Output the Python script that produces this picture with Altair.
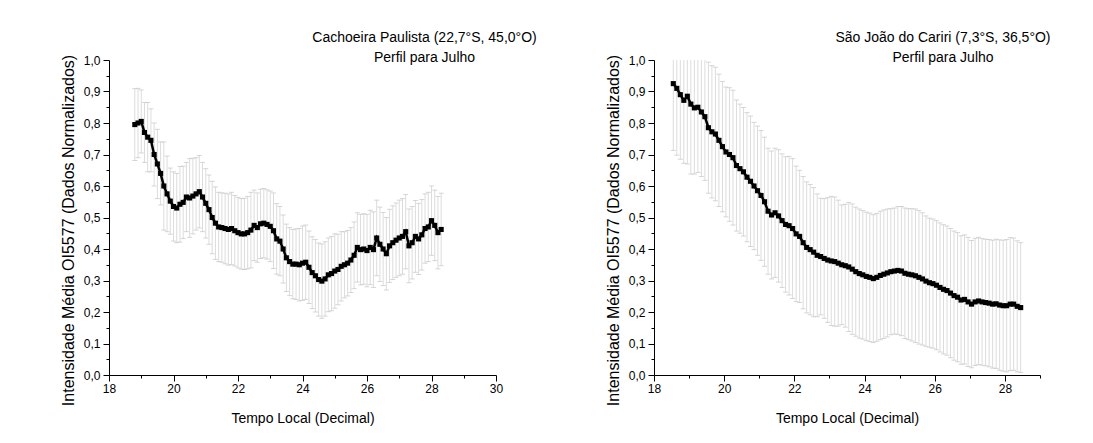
import altair as alt
import pandas as pd

# ---------------- data ----------------
# Left panel: Cachoeira Paulista, times start at 18.8 h, step 0.1 h
cp_start = 18.8
cp_mean = [0.795, 0.800, 0.805, 0.770, 0.755, 0.745, 0.700, 0.670, 0.640, 0.600,
           0.575, 0.552, 0.535, 0.530, 0.542, 0.548, 0.565, 0.562, 0.568, 0.575,
           0.582, 0.565, 0.545, 0.525, 0.500, 0.482, 0.470, 0.468, 0.465, 0.462,
           0.465, 0.458, 0.452, 0.448, 0.448, 0.452, 0.460, 0.475, 0.468, 0.480,
           0.482, 0.478, 0.472, 0.458, 0.432, 0.425, 0.400, 0.372, 0.360, 0.352,
           0.352, 0.350, 0.355, 0.358, 0.342, 0.325, 0.315, 0.303, 0.298, 0.305,
           0.318, 0.322, 0.330, 0.335, 0.345, 0.350, 0.355, 0.365, 0.380, 0.405,
           0.398, 0.400, 0.395, 0.405, 0.398, 0.435, 0.415, 0.400, 0.385, 0.410,
           0.420, 0.428, 0.435, 0.440, 0.455, 0.410, 0.420, 0.440, 0.432, 0.445,
           0.465, 0.470, 0.490, 0.475, 0.452, 0.462]
cp_err = [0.114, 0.110, 0.100, 0.095, 0.110, 0.100, 0.100, 0.110, 0.100, 0.140,
          0.120, 0.105, 0.110, 0.110, 0.120, 0.115, 0.110, 0.125, 0.120, 0.115,
          0.115, 0.110, 0.110, 0.110, 0.115, 0.115, 0.110, 0.110, 0.112, 0.113,
          0.115, 0.112, 0.112, 0.112, 0.113, 0.115, 0.120, 0.112, 0.110, 0.110,
          0.110, 0.110, 0.112, 0.120, 0.112, 0.110, 0.108, 0.107, 0.108, 0.110,
          0.112, 0.115, 0.118, 0.118, 0.115, 0.114, 0.115, 0.116, 0.118, 0.118,
          0.117, 0.118, 0.118, 0.112, 0.110, 0.105, 0.104, 0.103, 0.106, 0.110,
          0.112, 0.112, 0.115, 0.118, 0.120, 0.120, 0.118, 0.116, 0.115, 0.116,
          0.117, 0.118, 0.120, 0.120, 0.118, 0.117, 0.115, 0.114, 0.113, 0.112,
          0.110, 0.110, 0.110, 0.112, 0.115, 0.115]

# Right panel: Sao Joao do Cariri, times start at 18.55 h, step 0.1 h
sj_start = 18.55
sj_mean = [0.925, 0.910, 0.890, 0.872, 0.885, 0.860, 0.848, 0.850, 0.835, 0.820,
           0.785, 0.772, 0.765, 0.745, 0.725, 0.708, 0.700, 0.690, 0.665, 0.655,
           0.645, 0.628, 0.615, 0.600, 0.585, 0.570, 0.550, 0.520, 0.508, 0.515,
           0.505, 0.490, 0.478, 0.474, 0.465, 0.448, 0.440, 0.420, 0.405, 0.398,
           0.390, 0.380, 0.376, 0.370, 0.365, 0.362, 0.360, 0.355, 0.350, 0.347,
           0.343, 0.336, 0.328, 0.322, 0.318, 0.313, 0.310, 0.306, 0.310, 0.316,
           0.320, 0.324, 0.328, 0.330, 0.332, 0.330, 0.323, 0.320, 0.318, 0.315,
           0.310, 0.305, 0.298, 0.293, 0.290, 0.285, 0.278, 0.272, 0.268, 0.260,
           0.252, 0.247, 0.238, 0.240, 0.232, 0.225, 0.232, 0.235, 0.232, 0.230,
           0.228, 0.225, 0.226, 0.222, 0.220, 0.220, 0.225, 0.225, 0.218, 0.214]
sj_err = [0.212, 0.212, 0.205, 0.200, 0.215, 0.222, 0.210, 0.207, 0.205, 0.202,
          0.208, 0.210, 0.212, 0.210, 0.207, 0.206, 0.212, 0.214, 0.208, 0.205,
          0.204, 0.205, 0.207, 0.202, 0.205, 0.206, 0.205, 0.200, 0.203, 0.205,
          0.210, 0.212, 0.215, 0.220, 0.222, 0.215, 0.210, 0.210, 0.208, 0.207,
          0.205, 0.195, 0.185, 0.190, 0.198, 0.205, 0.205, 0.200, 0.190, 0.195,
          0.205, 0.207, 0.205, 0.205, 0.204, 0.204, 0.204, 0.203, 0.203, 0.204,
          0.204, 0.203, 0.200, 0.200, 0.203, 0.205, 0.207, 0.208, 0.210, 0.212,
          0.212, 0.210, 0.207, 0.205, 0.205, 0.205, 0.205, 0.205, 0.205, 0.205,
          0.205, 0.205, 0.204, 0.205, 0.205, 0.202, 0.202, 0.202, 0.201, 0.201,
          0.202, 0.203, 0.205, 0.207, 0.208, 0.210, 0.211, 0.210, 0.208, 0.206]

y_ticks = [0.0, 0.05, 0.1, 0.15, 0.2, 0.25, 0.3, 0.35, 0.4, 0.45, 0.5,
           0.55, 0.6, 0.65, 0.7, 0.75, 0.8, 0.85, 0.9, 0.95, 1.0]
x_ticks_left = [18, 19, 20, 21, 22, 23, 24, 25, 26, 27, 28, 29, 30]
x_ticks_right = [18, 19, 20, 21, 22, 23, 24, 25, 26, 27, 28, 29]

title_left = "Cachoeira Paulista (22,7°S, 45,0°O)"
title_right = "São João do Cariri (7,3°S, 36,5°O)"
subtitle = "Perfil para Julho"
x_title = "Tempo Local (Decimal)"
y_title = "Intensidade Média OI5577 (Dados Normalizados)"

FONT = "Liberation Sans"
X_MAJOR = "datum.value % 2 == 0"
Y_MAJOR = "abs(datum.value*10 - round(datum.value*10)) < 0.001"


def frame(start, mean, err):
    t = [round(start + 0.1 * i, 3) for i in range(len(mean))]
    return pd.DataFrame({"t": t, "mean": mean, "err": err})


def panel(df, xdom, xticks, title, dx, width):
    base = alt.Chart(df).transform_calculate(
        lo="datum.mean - datum.err", hi="datum.mean + datum.err"
    )
    xs = alt.Scale(domain=xdom, nice=False, zero=False)
    ys = alt.Scale(domain=[0, 1], nice=False, zero=False)
    xaxis = alt.Axis(
        values=xticks, title=x_title,
        labelExpr=X_MAJOR + " ? datum.label : ''",
        tickSize=6,
        tickDash={"condition": {"test": X_MAJOR, "value": [6, 2]}, "value": [3, 9]},
        labelFontSize=12, labelFont=FONT, labelColor="black", labelPadding=2,
        labelFlush=False, labelOverlap=False, grid=False,
        titleFontSize=14, titleFont=FONT, titleFontWeight="normal", titleColor="black",
        titleBaseline="alphabetic", titleY=47,
        domainColor="black", tickColor="black", domainWidth=1, tickWidth=1,
    )
    yaxis = alt.Axis(
        values=y_ticks, title=y_title,
        labelExpr=Y_MAJOR + " ? replace(format(datum.value, '.1f'), '.', ',') : ''",
        tickSize=6,
        tickDash={"condition": {"test": Y_MAJOR, "value": [6, 2]}, "value": [3, 9]},
        labelFontSize=12, labelFont=FONT, labelColor="black", labelPadding=3,
        labelFlush=False, labelOverlap=False, grid=False,
        titleFontSize=16, titleFont=FONT, titleFontWeight="normal", titleColor="black",
        titleBaseline="alphabetic", titleAlign="center", titleX=-36, titleY=170,
        domainColor="black", tickColor="black", domainWidth=1, tickWidth=1,
    )

    def X():
        return alt.X("t:Q", scale=xs, axis=xaxis)

    def Y(field):
        return alt.Y(field, type="quantitative", scale=ys, axis=yaxis)

    bars = base.mark_rule(color="#dcdcdc", strokeWidth=1, clip=True).encode(
        x=X(), y=Y("lo"), y2="hi:Q",
    )
    cap_hi = base.mark_tick(orient="horizontal", size=5, thickness=1,
                            color="#c4c4c4", clip=True).encode(x=X(), y=Y("hi"))
    cap_lo = base.mark_tick(orient="horizontal", size=5, thickness=1,
                            color="#c4c4c4", clip=True).encode(x=X(), y=Y("lo"))
    line = base.mark_line(color="black", strokeWidth=2.5).encode(x=X(), y=Y("mean"))
    pts = base.mark_square(size=26, color="black", opacity=1).encode(x=X(), y=Y("mean"))
    return alt.layer(bars, cap_hi, cap_lo, line, pts).properties(
        width=width, height=315,
        title=alt.TitleParams(
            text=title, subtitle=subtitle, anchor="middle", frame="group",
            align="center", dx=dx, offset=-11,
            font=FONT, fontSize=14, fontWeight="normal", color="black",
            subtitleFont=FONT, subtitleFontSize=14, subtitleColor="black",
            subtitlePadding=6,
        ),
    )


left = panel(frame(cp_start, cp_mean, cp_err), [18, 30], x_ticks_left, title_left, 122, 387)
right = panel(frame(sj_start, sj_mean, sj_err), [18, 29], x_ticks_right, title_right, 96, 386)

chart = alt.hconcat(left, right, spacing=158, bounds="flush").properties(
    padding={"left": 60, "top": 31, "right": 5, "bottom": 5},
    background="white",
).configure_view(stroke=None)

chart.save("out.html", embed_options={"renderer": "svg", "actions": False})
